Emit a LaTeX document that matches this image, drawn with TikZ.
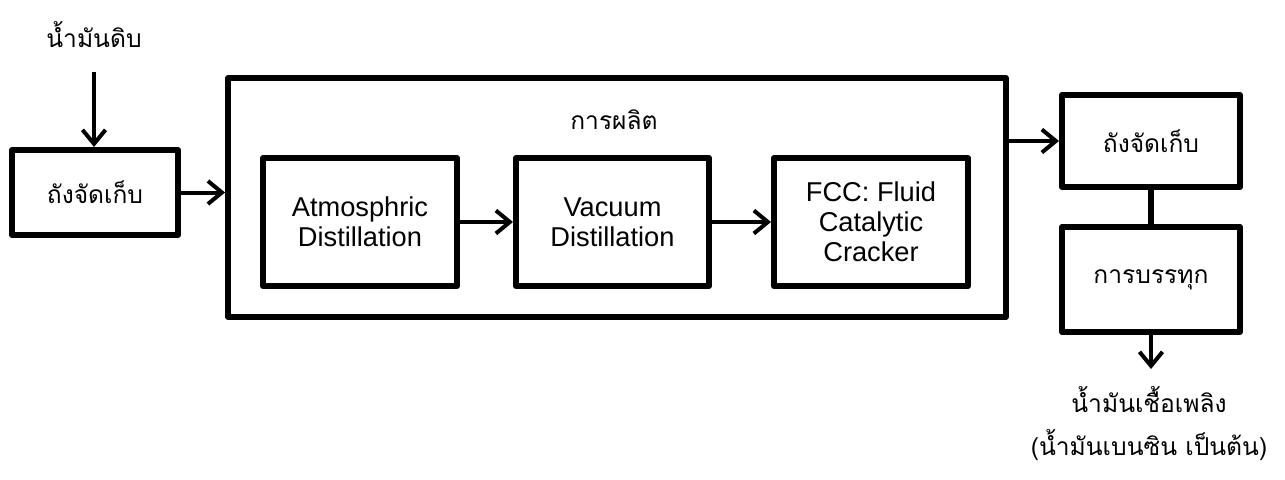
\documentclass[tikz,border=0pt]{standalone}
\usepackage{fontspec}
\setmainfont{Liberation Sans}
\newfontfamily\thaifont[Script=Thai]{Loma}
\usetikzlibrary{arrows.meta, positioning}
\tikzset{
  blk/.style={draw, line width=0.12cm, line join=round, align=center, inner sep=0pt,
    font=\fontsize{15.5}{17}\selectfont},
  thai/.style={font=\thaifont\fontsize{14}{17}\selectfont},
  flow/.style={line width=0.08cm, -{Straight Barb[length=0.28cm, width=0.46cm]}}}

\begin{document}
\begin{tikzpicture}[x=0.02cm, y=-0.02cm]
\useasboundingbox (0,0) rectangle (1285,480);
	\coordinate (in) at (94,72);
	\coordinate (out) at (1151,369);
\node (crude) at (94,35) [thai] {น้ำมันดิบ};
\node (tank1) at (95,192.5) [blk, thai, minimum width=3.32cm, minimum height=1.70cm] {ถังจัดเก็บ};
\node (prod) at (617,197.5) [blk, minimum width=15.56cm, minimum height=4.78cm] {};
\node (mfg) at (614,120) [thai] {การผลิต};
\node (atm) at (360,222) [blk, minimum width=3.88cm, minimum height=2.56cm] {Atmosphric\\Distillation};
\node (vac) at (612.5,222) [blk, minimum width=3.86cm, minimum height=2.56cm] {Vacuum\\Distillation};
\node (fcc) at (871,222) [blk, minimum width=3.88cm, minimum height=2.56cm] {FCC: Fluid\\Catalytic\\Cracker};
\node (tank2) at (1151,141) [blk, thai, minimum width=3.56cm, minimum height=1.84cm] {ถังจัดเก็บ};
\node (load) at (1151,279.5) [blk, thai, minimum width=3.56cm, minimum height=2.10cm] {การบรรทุก};
\node (fuel) at (1149,400) [thai] {น้ำมันเชื้อเพลิง};
\node (ex) at (1149,445) [thai] {(น้ำมันเบนซิน เป็นต้น)};
\draw [flow] (in) -- (in |- tank1.north);
\draw [flow] (tank1.east) -- (tank1.east -| prod.west);
\draw [flow] (atm) -- (vac);
\draw [flow] (vac) -- (fcc);
\draw [flow] (prod.east |- tank2) -- (tank2);
\draw [line width=0.11cm] (tank2) -- (load);
\draw [flow] (load) -- (out);
\end{tikzpicture}
\end{document}
